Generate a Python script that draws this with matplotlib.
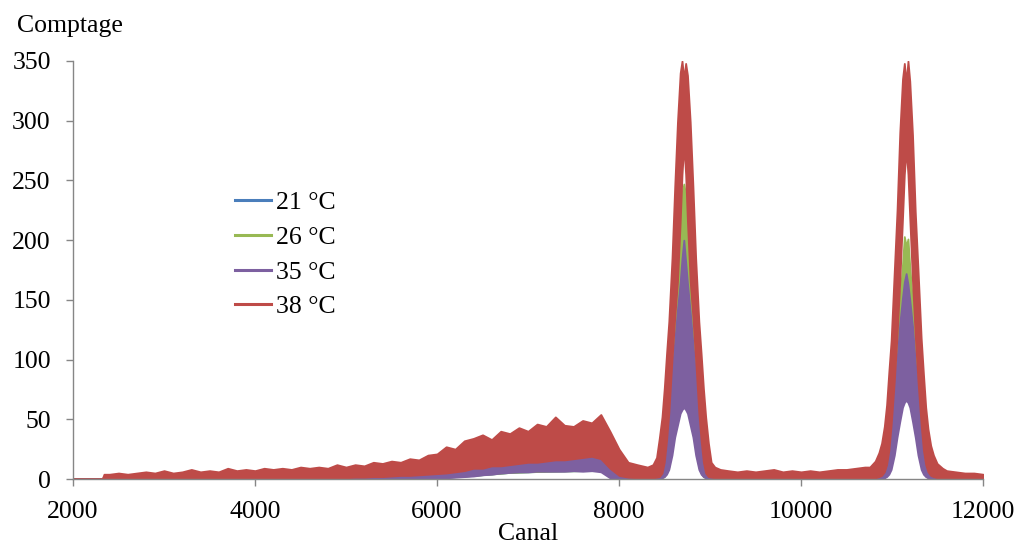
import numpy as np
import matplotlib
matplotlib.use("Agg")
import matplotlib.pyplot as plt
from matplotlib.lines import Line2D

plt.rcParams['font.family'] = ['Liberation Serif', 'DejaVu Serif']

# --- donnees (enveloppes haute/basse du bruit) ---
series = ["21 °C", "26 °C", "35 °C", "38 °C"]
couleurs = ["#4A7EBB", "#98B954", "#7D60A0", "#BE4B48"]

# decalages autour du centre de chaque pic (canaux)
decalage_pic = np.array([-400, -340, -300, -270, -240, -215, -190, -165, -130, -100, -70,
                         -40, -20, 0, 20, 40, 70, 100, 130, 165, 190, 215, 240, 270,
                         300, 340, 400])
centre_pic1 = 8712
centre_pic2 = 11155

# grille fine (rouge, violet) et grille grossiere (bleu, vert) hors des pics
canal_continu = np.concatenate([[2000, 2320, 2340], np.arange(2400, 8300, 100)])
canal_vallee = np.arange(9200, 10800, 100)
canal_queue = np.arange(11600, 12100, 100)
canal_continu_g = np.array([2000, 2320, 2340, 3000, 3600, 4200, 4800, 5400, 6000,
                            6400, 6800, 7200, 7600, 7800, 8000, 8200])
canal_vallee_g = np.array([9200, 9600, 10000, 10400, 10700])
canal_queue_g = np.array([11600, 11800, 12000])

# 38 °C
rouge_continu_haut = [0, 0, 4,
                      4, 5, 4, 5, 6, 5, 7, 5, 6, 8, 6, 7, 6, 9, 7, 8, 7, 9, 8, 9, 8, 10,
                      9, 10, 9, 12, 10, 12, 11, 14, 13, 15, 14, 17, 16, 20, 21, 27, 25,
                      32, 34, 37, 33, 40, 38, 43, 40, 46, 44, 52, 45, 44, 49, 47, 54, 40,
                      25, 14, 12]
rouge_continu_bas = ([0, 0, 0] + [0.5] * 24 +
                     [0.8, 1, 1, 1.5, 1.5, 2, 2, 2.5, 3, 3, 3.5, 4] +
                     [4.5, 5, 6, 7, 9, 9, 11, 11, 12, 13, 14, 14, 15, 16, 16, 17, 18,
                      19, 17, 9, 3, 1.5, 1])
rouge_pic1_haut = [10, 12, 18, 34, 52, 76, 105, 132, 185, 245, 299, 340, 350, 335, 348,
                   338, 299, 245, 185, 132, 105, 76, 52, 30, 14, 10, 8]
rouge_pic1_bas = [1, 1, 1.5, 2, 5, 14, 32, 55, 100, 135, 165, 215, 255, 280, 255, 215,
                  165, 135, 100, 55, 32, 14, 5, 2, 1.5, 1, 1]
rouge_vallee_haut = [7, 6, 7, 6, 7, 8, 6, 7, 6, 7, 6, 7, 8, 8, 9, 10]
rouge_vallee_bas = [0.5] * 16
rouge_pic2_haut = [10, 15, 22, 30, 44, 62, 90, 116, 175, 225, 290, 335, 348, 332, 350,
                   333, 288, 224, 176, 118, 88, 60, 42, 28, 20, 13, 9]
rouge_pic2_bas = [1, 1, 2, 3, 6, 12, 24, 45, 82, 120, 165, 218, 255, 276, 255, 218, 165,
                  120, 82, 45, 24, 12, 6, 3, 2, 1, 1]
rouge_queue_haut = [7, 6, 5, 5, 4]
rouge_queue_bas = [0.5, 0.5, 0.5, 0.5, 0.5]

# 35 °C
violet_continu_haut = ([0, 0, 2] +
                       [2, 2, 2, 3, 2, 3, 3, 3, 3, 3, 3, 4, 3, 4, 4, 4, 4, 4, 4, 5, 5,
                        4, 4, 4, 4] +
                       [4, 4, 4, 5, 4, 5, 5, 5, 5, 6, 5] +
                       [6, 8, 10, 9, 12, 11, 13, 12, 15, 14, 16, 15, 17, 16, 18, 17, 21,
                        20, 24, 12, 5, 6, 5])
violet_continu_bas = ([0, 0, 0] + [0] * 36 +
                      [0.5, 1, 1.5, 2, 2.5, 3.5, 4, 5, 5.5, 6, 6, 6.5, 6.5, 6.5, 6.5, 7,
                       6.5, 7, 6, 1, 0, 0, 0])
violet_pic1_haut = [5, 5, 8, 13, 18, 26, 36, 55, 88, 115, 142, 165, 185, 200, 182, 164,
                    140, 113, 86, 54, 36, 27, 20, 14, 8, 5, 4]
violet_pic1_bas = [0, 0, 0, 0.5, 1, 2, 4, 8, 20, 35, 45, 55, 58, 60, 58, 55, 45, 35, 20,
                   8, 4, 2, 1, 0.5, 0, 0, 0]
violet_vallee_haut = [4, 3, 4, 3, 4, 3, 4, 4, 3, 4, 4, 3, 4, 4, 5, 6]
violet_vallee_bas = [0] * 16
violet_pic2_haut = [2, 3, 6, 9, 14, 22, 32, 46, 75, 100, 130, 152, 165, 172, 163, 150,
                    128, 98, 74, 46, 32, 22, 14, 9, 6, 3, 2]
violet_pic2_bas = [0, 0, 0, 0.5, 1, 2, 4, 8, 20, 35, 48, 60, 64, 66, 64, 60, 48, 35, 20,
                   8, 4, 2, 1, 0.5, 0, 0, 0]
violet_queue_haut = [2, 2, 2, 2, 2]
violet_queue_bas = [0, 0, 0, 0, 0]

# 26 °C
vert_continu_haut = [0, 0, 2, 3, 3, 4, 4, 5, 6, 10, 13, 15, 17, 19, 5, 4]
vert_continu_bas = [0, 0, 0, 0, 0, 0, 0, 0, 1, 3, 5.5, 6.5, 7, 7, 1, 0]
vert_pic1_haut = [6, 5, 6, 8, 12, 20, 28, 42, 85, 130, 162, 215, 240, 247, 238, 212,
                  160, 128, 84, 44, 30, 20, 12, 8, 6, 5, 4]
vert_pic1_bas = [0, 0, 0, 0.5, 1, 2, 5, 10, 28, 45, 58, 65, 68, 70, 68, 65, 58, 45, 28,
                 10, 5, 2, 1, 0.5, 0, 0, 0]
vert_vallee_haut = [3, 3, 3, 3, 5]
vert_vallee_bas = [0, 0, 0, 0, 0]
vert_pic2_haut = [2, 4, 6, 9, 16, 24, 34, 50, 82, 110, 150, 180, 203, 195, 201, 178,
                  148, 108, 80, 50, 34, 24, 16, 9, 6, 4, 2]
vert_pic2_bas = [0, 0, 0, 0.5, 1, 3, 6, 12, 26, 45, 60, 70, 73, 75, 73, 70, 60, 45, 26,
                 12, 6, 3, 1, 0.5, 0, 0, 0]
vert_queue_haut = [2, 2, 2]
vert_queue_bas = [0, 0, 0]

# 21 °C (cachee sous les autres courbes)
bleu_continu_haut = [0, 0, 2, 3, 3, 3, 4, 4, 5, 8, 11, 13, 15, 17, 4, 3]
bleu_continu_bas = [0, 0, 0, 0, 0, 0, 0, 0, 1, 3, 5.5, 6.5, 7, 7, 1, 0]
bleu_pic1_haut = [4, 4, 6, 10, 15, 22, 30, 48, 78, 102, 126, 148, 165, 178, 162, 146,
                  124, 100, 76, 47, 31, 23, 16, 11, 6, 4, 3]
bleu_pic1_bas = [0, 0, 0, 1, 2, 4, 7, 12, 26, 42, 52, 62, 66, 68, 66, 62, 52, 42, 26, 12,
                 7, 4, 2, 1, 0, 0, 0]
bleu_vallee_haut = [3, 3, 3, 3, 4]
bleu_vallee_bas = [0, 0, 0, 0, 0]
bleu_pic2_haut = [2, 2, 5, 8, 12, 19, 28, 40, 66, 88, 114, 134, 146, 152, 144, 132, 112,
                  86, 65, 40, 28, 19, 12, 8, 5, 2, 2]
bleu_pic2_bas = [0, 0, 0, 1, 2, 4, 7, 12, 26, 42, 55, 66, 70, 72, 70, 66, 55, 42, 26, 12,
                 7, 4, 2, 1, 0, 0, 0]
bleu_queue_haut = [2, 2, 2]
bleu_queue_bas = [0, 0, 0]

canal_pic1 = centre_pic1 + decalage_pic
canal_pic2 = centre_pic2 + decalage_pic
canal_fin = np.concatenate([canal_continu, canal_pic1, canal_vallee, canal_pic2, canal_queue])
canal_gros = np.concatenate([canal_continu_g, canal_pic1, canal_vallee_g, canal_pic2, canal_queue_g])

def assemble(*parts):
    return np.concatenate([np.asarray(p, dtype=float) for p in parts])

donnees = [
    (canal_gros,
     assemble(bleu_continu_bas, bleu_pic1_bas, bleu_vallee_bas, bleu_pic2_bas, bleu_queue_bas),
     assemble(bleu_continu_haut, bleu_pic1_haut, bleu_vallee_haut, bleu_pic2_haut, bleu_queue_haut)),
    (canal_gros,
     assemble(vert_continu_bas, vert_pic1_bas, vert_vallee_bas, vert_pic2_bas, vert_queue_bas),
     assemble(vert_continu_haut, vert_pic1_haut, vert_vallee_haut, vert_pic2_haut, vert_queue_haut)),
    (canal_fin,
     assemble(violet_continu_bas, violet_pic1_bas, violet_vallee_bas, violet_pic2_bas, violet_queue_bas),
     assemble(violet_continu_haut, violet_pic1_haut, violet_vallee_haut, violet_pic2_haut, violet_queue_haut)),
    (canal_fin,
     assemble(rouge_continu_bas, rouge_pic1_bas, rouge_vallee_bas, rouge_pic2_bas, rouge_queue_bas),
     assemble(rouge_continu_haut, rouge_pic1_haut, rouge_vallee_haut, rouge_pic2_haut, rouge_queue_haut)),
]

fig = plt.figure(figsize=(10.3, 5.45), dpi=100)
ax = fig.add_axes([0.0709, 0.1211, 0.8835, 0.7670])

for (x, bas, haut), c in zip(donnees, couleurs):
    ax.fill_between(x, bas, haut, facecolor=c, edgecolor=c, linewidth=1.3, zorder=2)

ax.set_xlim(2000, 12000)
ax.set_ylim(0, 350)
ax.set_xticks(np.arange(2000, 12001, 2000))
ax.set_yticks(np.arange(0, 351, 50))

gris = "#868686"
for s in ["top", "right"]:
    ax.spines[s].set_visible(False)
for s in ["left", "bottom"]:
    ax.spines[s].set_color(gris)
    ax.spines[s].set_linewidth(1.0)
ax.tick_params(axis="both", direction="out", length=5, width=1.0, color=gris,
               labelsize=18.5, labelcolor="black")
ax.tick_params(axis="y", pad=11)
ax.tick_params(axis="x", pad=10.5)

ax.set_xlabel("Canal", fontsize=18.5, labelpad=0)
fig.text(17 / 1030, 1 - 32 / 545, "Comptage", fontsize=18.5, ha="left", va="baseline")

poignees = [Line2D([], [], color=c, lw=2.2) for c in couleurs]
ax.legend(poignees, series, loc="upper left", bbox_to_anchor=(235 / 1030, 1 - 191 / 545),
          bbox_transform=fig.transFigure, frameon=False, fontsize=18.5,
          handlelength=1.4, handletextpad=0.2, labelspacing=0.46,
          borderpad=0, borderaxespad=0)

fig.savefig("out.png", dpi=100)
